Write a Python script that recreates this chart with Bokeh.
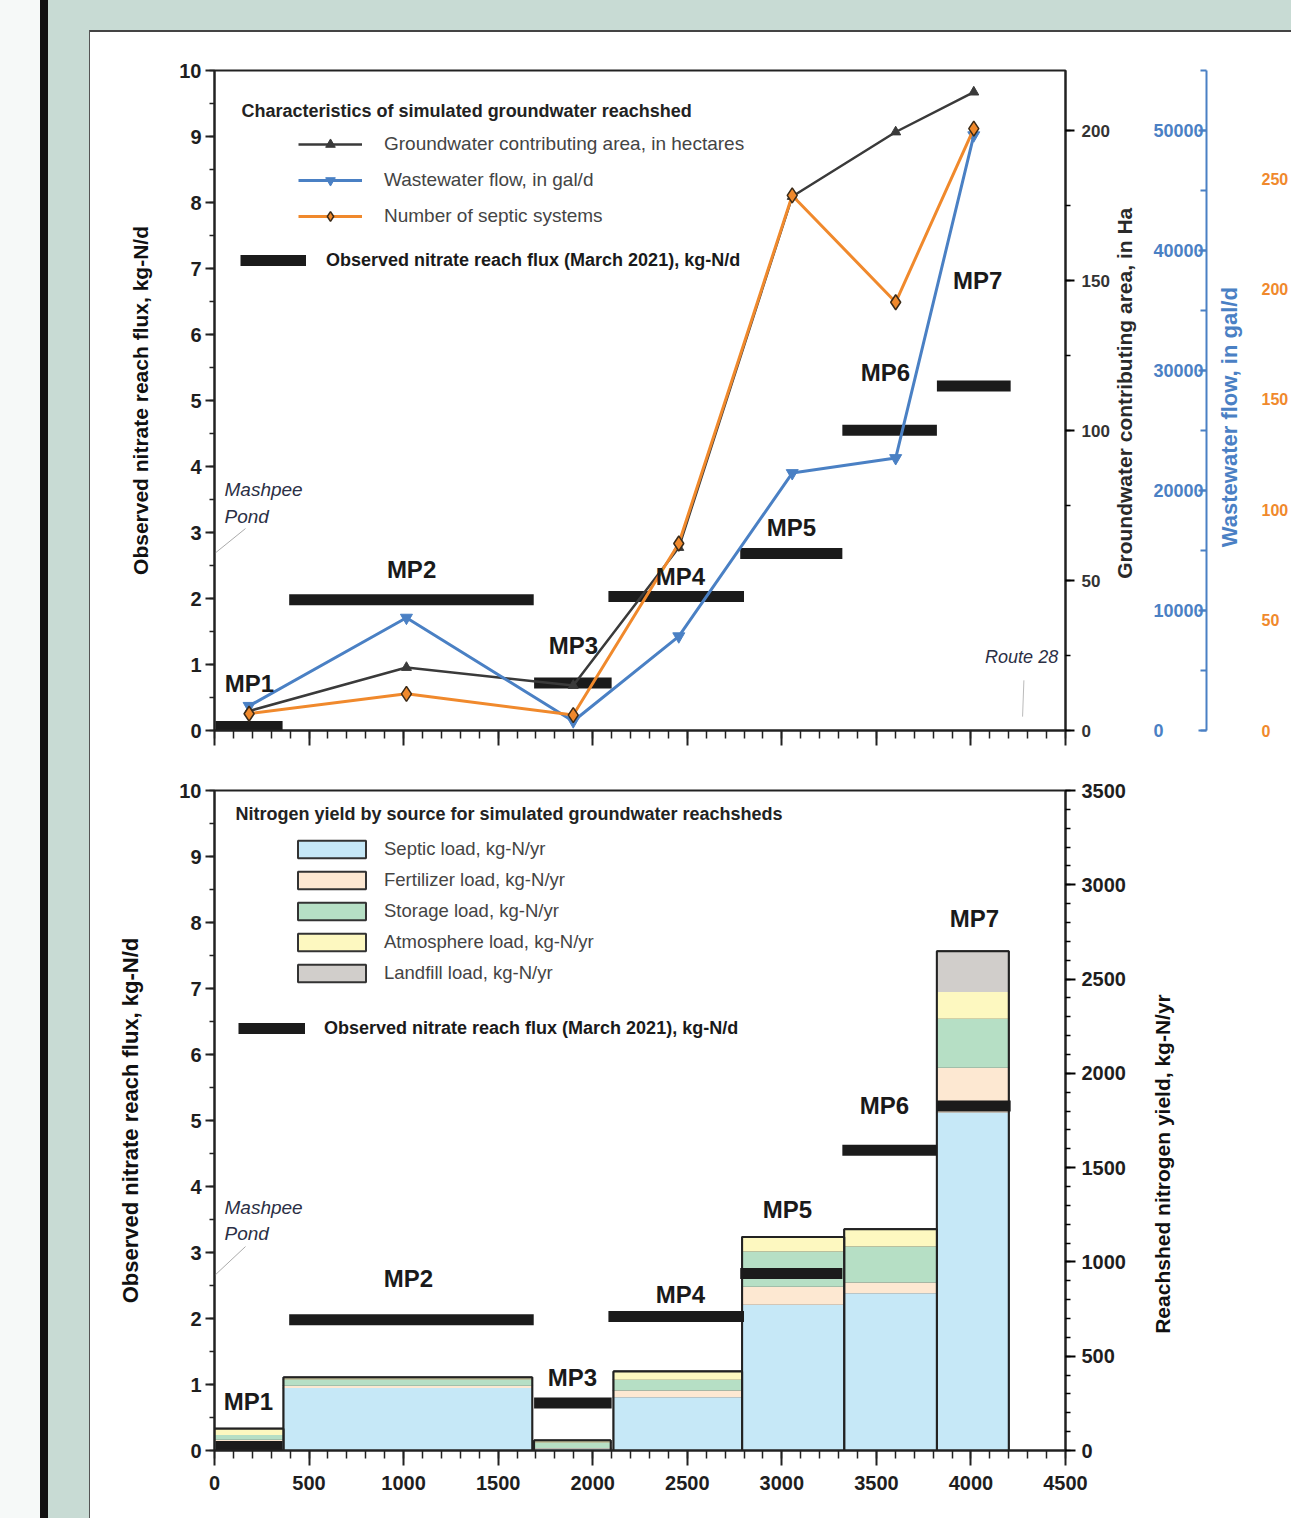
import math
from bokeh.plotting import figure
from bokeh.models import (ColumnDataSource, Range1d, LinearAxis, SingleIntervalTicker,
                          Legend, LegendItem, Div)
from bokeh.layouts import row, column
from bokeh.core.properties import value
from bokeh.embed import file_html
from bokeh.resources import INLINE

# ---------------- data ----------------
reaches = ["MP1", "MP2", "MP3", "MP4", "MP5", "MP6", "MP7"]
point_distance_m = [183, 1015, 1897, 2455, 3055, 3602, 4015]
contributing_area_ha = [6.5, 21, 15, 61, 178, 199.5, 212.8]
wastewater_flow_gpd = [2050, 9400, 770, 7850, 21450, 22700, 49600]
septic_systems = [7.6, 16.6, 7, 84.7, 242.4, 194, 272.7]

flux_start_m = [5, 395, 1690, 2083, 2780, 3320, 3820]
flux_end_m = [360, 1688, 2100, 2800, 3320, 3820, 4210]
observed_flux_kgd = [0.06, 1.98, 0.72, 2.03, 2.68, 4.55, 5.22]

bar_start_m = [0, 365, 1690, 2110, 2790, 3330, 3820]
bar_end_m = [365, 1680, 2095, 2790, 3330, 3820, 4200]
septic_load = [45, 331, 10, 283, 773, 834, 1793]
fertilizer_load = [12, 12, 3, 35, 95, 57, 237]
storage_load = [25, 34, 30, 57, 187, 191, 259]
atmosphere_load = [33, 10, 10, 44, 77, 91, 142]
landfill_load = [0, 0, 0, 0, 0, 0, 216]

load_labels = ["Septic load, kg-N/yr", "Fertilizer load, kg-N/yr", "Storage load, kg-N/yr",
               "Atmosphere load, kg-N/yr", "Landfill load, kg-N/yr"]
load_colors = ["#c6e8f7", "#fde8d2", "#b6dfc5", "#fdf8c0", "#d1cecb"]

top_label_x = [185, 1042, 1898, 2464, 3051, 3548, 4035]
top_label_y = [0.71, 2.44, 1.29, 2.33, 3.08, 5.42, 6.82]
bottom_label_x = [180, 1026, 1893, 2464, 3030, 3543, 4019]
bottom_label_y = [0.74, 2.61, 1.11, 2.36, 3.65, 5.23, 8.06]

FONT = "Liberation Sans"
GREY_BG = "#c8dbd4"
BLUE = "#4a80c4"
ORANGE = "#f0892c"
DARK = "#3a3a3a"
NB = "\u00a0"


def hide_labels(ax):
    ax.major_label_text_font_size = "1px"
    ax.major_label_text_color = None
    ax.major_label_standoff = 0


def title_props(ax, text, color, size, standoff):
    ax.axis_label = text
    ax.axis_label_text_font = FONT
    ax.axis_label_text_font_style = "bold"
    ax.axis_label_text_font_size = size
    ax.axis_label_text_color = color
    ax.axis_label_standoff = standoff


def right_title(ax, text, color, size, standoff, lead):
    # reads bottom-to-top like the reference; anchored at the axis start
    title_props(ax, NB * lead + text, color, size, standoff)
    ax.axis_label_orientation = math.pi / 2
    ax.axis_label_align = "start"


def style_common(p, left_standoff):
    p.grid.visible = False
    p.outline_line_color = "#222222"
    p.outline_line_width = 2
    xa = p.xaxis[0]
    xa.ticker = SingleIntervalTicker(interval=500, num_minor_ticks=5)
    xa.axis_line_width = 2
    xa.axis_line_color = "#222222"
    xa.major_tick_line_width = 2
    xa.minor_tick_line_width = 1.5
    xa.major_tick_line_color = "#222222"
    xa.minor_tick_line_color = "#222222"
    xa.major_tick_in = 0
    xa.minor_tick_in = 0
    xa.major_tick_out = 15
    xa.minor_tick_out = 8
    xa.major_label_text_font = FONT
    xa.major_label_text_font_style = "bold"
    xa.major_label_text_font_size = "20px"
    xa.major_label_text_color = "#1e1e1e"
    ya = p.yaxis[0]
    ya.ticker = SingleIntervalTicker(interval=1, num_minor_ticks=2)
    ya.axis_line_width = 2
    ya.axis_line_color = "#222222"
    ya.major_tick_line_width = 2
    ya.minor_tick_line_width = 1.5
    ya.major_tick_line_color = "#222222"
    ya.minor_tick_line_color = "#222222"
    ya.major_tick_in = 0
    ya.minor_tick_in = 0
    ya.major_tick_out = 9
    ya.minor_tick_out = 5
    ya.major_label_standoff = 4
    ya.major_label_text_font = FONT
    ya.major_label_text_font_style = "bold"
    ya.major_label_text_font_size = "20px"
    ya.major_label_text_color = "#1e1e1e"
    title_props(ya, "Observed nitrate reach flux, kg-N/d", "#111111", "21px", left_standoff)


def add_notes(p, pond_y1, pond_y2, lead_y0, lead_y1):
    p.text(x=[53, 53], y=[pond_y1, pond_y2], text=["Mashpee", "Pond"],
           text_font=value(FONT), text_font_style="italic", text_font_size="19px",
           text_color="#2b2f45", text_align="left", text_baseline="middle")
    p.segment(x0=[0], y0=[lead_y0], x1=[164], y1=[lead_y1], line_color="#aaaaaa", line_width=1)


def flux_renderer(p):
    src = ColumnDataSource(dict(start=flux_start_m, end=flux_end_m, val=observed_flux_kgd))
    return p.segment(x0="start", y0="val", x1="end", y1="val", source=src,
                     line_color="#1b1b1b", line_width=11, line_cap="butt")


def mp_labels(p, xs, ys):
    src = ColumnDataSource(dict(x=xs, y=ys, t=reaches))
    p.text(x="x", y="y", text="t", source=src, text_font=value(FONT), text_font_style="bold",
           text_font_size="24px", text_color="#1a1a1a", text_align="center",
           text_baseline="middle")


# ---------------- top panel ----------------
p1 = figure(frame_width=851, frame_height=660, x_range=Range1d(0, 4500), y_range=Range1d(0, 10),
            output_backend="svg", toolbar_location=None,
            min_border_left=124, min_border_right=226, min_border_top=38, min_border_bottom=30,
            background_fill_color="white", border_fill_color="white", margin=(0, 0, 0, 0))
p1.extra_y_ranges = {"ha": Range1d(0, 220), "ww": Range1d(0, 55000), "sep": Range1d(0, 299)}
style_common(p1, 24)
hide_labels(p1.xaxis[0])

ax_ha = LinearAxis(y_range_name="ha", ticker=SingleIntervalTicker(interval=50, num_minor_ticks=2))
ax_ha.axis_line_width = 2
ax_ha.axis_line_color = "#222222"
ax_ha.major_tick_line_width = 2
ax_ha.minor_tick_line_width = 1.5
ax_ha.major_tick_in = 0
ax_ha.minor_tick_in = 0
ax_ha.major_tick_out = 9
ax_ha.minor_tick_out = 5
ax_ha.major_label_standoff = 7
ax_ha.major_label_text_font = FONT
ax_ha.major_label_text_font_style = "bold"
ax_ha.major_label_text_font_size = "17px"
ax_ha.major_label_text_color = "#333333"
right_title(ax_ha, "Groundwater contributing area, in Ha", "#2a2a2a", "21px", 12, 26)
p1.add_layout(ax_ha, "right")

ax_ww_lab = LinearAxis(y_range_name="ww", ticker=SingleIntervalTicker(interval=10000, num_minor_ticks=2))
ax_ww_lab.axis_line_alpha = 0
ax_ww_lab.major_tick_line_alpha = 0
ax_ww_lab.minor_tick_line_alpha = 0
ax_ww_lab.major_tick_in = 0
ax_ww_lab.minor_tick_in = 0
ax_ww_lab.major_tick_out = 0
ax_ww_lab.minor_tick_out = 0
ax_ww_lab.major_label_standoff = 3
ax_ww_lab.major_label_text_font = FONT
ax_ww_lab.major_label_text_font_style = "bold"
ax_ww_lab.major_label_text_font_size = "18px"
ax_ww_lab.major_label_text_color = BLUE
p1.add_layout(ax_ww_lab, "right")

ax_ww = LinearAxis(y_range_name="ww", ticker=SingleIntervalTicker(interval=10000, num_minor_ticks=2))
ax_ww.axis_line_color = BLUE
ax_ww.axis_line_width = 2
ax_ww.major_tick_line_color = BLUE
ax_ww.minor_tick_line_color = BLUE
ax_ww.major_tick_line_width = 2
ax_ww.minor_tick_line_width = 2
ax_ww.major_tick_in = 8
ax_ww.minor_tick_in = 6
ax_ww.major_tick_out = 0
ax_ww.minor_tick_out = 0
hide_labels(ax_ww)
right_title(ax_ww, "Wastewater flow, in gal/d", BLUE, "22px", 23, 30)
p1.add_layout(ax_ww, "right")

ax_sep = LinearAxis(y_range_name="sep", ticker=SingleIntervalTicker(interval=50, num_minor_ticks=1))
ax_sep.axis_line_alpha = 0
ax_sep.major_tick_line_alpha = 0
ax_sep.minor_tick_line_alpha = 0
ax_sep.major_tick_in = 0
ax_sep.minor_tick_in = 0
ax_sep.major_tick_out = 0
ax_sep.minor_tick_out = 0
ax_sep.major_label_standoff = 4
ax_sep.major_label_text_font = FONT
ax_sep.major_label_text_font_style = "bold"
ax_sep.major_label_text_font_size = "16px"
ax_sep.major_label_text_color = ORANGE
p1.add_layout(ax_sep, "right")

flux1 = flux_renderer(p1)

pts = ColumnDataSource(dict(x=point_distance_m, ha=contributing_area_ha,
                            ww=wastewater_flow_gpd, sep=septic_systems))
l_ha = p1.line(x="x", y="ha", source=pts, y_range_name="ha", line_color=DARK, line_width=2.5)
m_ha = p1.scatter(x="x", y="ha", source=pts, y_range_name="ha", marker="triangle",
                  size=10, fill_color=DARK, line_color=DARK)
l_ww = p1.line(x="x", y="ww", source=pts, y_range_name="ww", line_color=BLUE, line_width=3)
m_ww = p1.scatter(x="x", y="ww", source=pts, y_range_name="ww", marker="inverted_triangle",
                  size=12, fill_color=BLUE, line_color=BLUE)
l_sep = p1.line(x="x", y="sep", source=pts, y_range_name="sep", line_color=ORANGE, line_width=3)
m_sep = p1.scatter(x="x", y="sep", source=pts, y_range_name="sep", marker="diamond",
                   size=15, fill_color=ORANGE, line_color="#3a2a18", line_width=1.5)

mp_labels(p1, top_label_x, top_label_y)
add_notes(p1, 3.65, 3.24, 2.68, 3.06)
p1.text(x=[4268], y=[1.12], text=["Route 28"], text_font=value(FONT), text_font_style="italic",
        text_font_size="18px", text_color="#2b2f45", text_align="center", text_baseline="middle")
p1.segment(x0=[4280], y0=[0.76], x1=[4273], y1=[0.21], line_color="#bbbbbb", line_width=1)

p1.text(x=[143], y=[9.38], text=["Characteristics of simulated groundwater reachshed"],
        text_font=value(FONT), text_font_style="bold", text_font_size="18px",
        text_color="#222222", text_align="left", text_baseline="middle")

leg1 = Legend(items=[
    LegendItem(label="Groundwater contributing area, in hectares", renderers=[l_ha, m_ha]),
    LegendItem(label="Wastewater flow, in gal/d", renderers=[l_ww, m_ww]),
    LegendItem(label="Number of septic systems", renderers=[l_sep, m_sep]),
], location=(84, 502), glyph_width=64, glyph_height=24, label_height=24, spacing=12,
    padding=0, margin=0, label_standoff=22, background_fill_alpha=0, border_line_alpha=0,
    label_text_font=FONT, label_text_font_size="19px", label_text_color="#444444")
p1.add_layout(leg1)
leg1b = Legend(items=[LegendItem(label="Observed nitrate reach flux (March 2021), kg-N/d",
                                 renderers=[flux1])],
               location=(26, 458), glyph_width=66, glyph_height=24, label_height=24,
               padding=0, margin=0, label_standoff=20, background_fill_alpha=0,
               border_line_alpha=0, label_text_font=FONT, label_text_font_size="18px",
               label_text_font_style="bold", label_text_color="#1a1a1a")
p1.add_layout(leg1b)

# ---------------- bottom panel ----------------
p2 = figure(frame_width=851, frame_height=660, x_range=Range1d(0, 4500), y_range=Range1d(0, 10),
            output_backend="svg", toolbar_location=None,
            min_border_left=124, min_border_right=226, min_border_top=30, min_border_bottom=68,
            background_fill_color="white", border_fill_color="white", margin=(0, 0, 0, 0))
p2.extra_y_ranges = {"yield": Range1d(0, 3500)}
style_common(p2, 33)
p2.yaxis[0].axis_label_text_font_size = "22px"
p2.xaxis[0].major_label_standoff = 10

ax_y = LinearAxis(y_range_name="yield", ticker=SingleIntervalTicker(interval=500, num_minor_ticks=5))
ax_y.axis_line_width = 2
ax_y.axis_line_color = "#222222"
ax_y.major_tick_line_width = 2
ax_y.minor_tick_line_width = 1.5
ax_y.major_tick_in = 0
ax_y.minor_tick_in = 0
ax_y.major_tick_out = 10
ax_y.minor_tick_out = 5
ax_y.major_label_standoff = 6
ax_y.major_label_text_font = FONT
ax_y.major_label_text_font_style = "bold"
ax_y.major_label_text_font_size = "20px"
ax_y.major_label_text_color = "#1e1e1e"
right_title(ax_y, "Reachshed nitrogen yield, kg-N/yr", "#111111", "21px", 34, 20)
p2.add_layout(ax_y, "right")

layers = [septic_load, fertilizer_load, storage_load, atmosphere_load, landfill_load]
layer_sources = []
base = [0.0] * len(reaches)
for vals in layers:
    top = [b + v for b, v in zip(base, vals)]
    layer_sources.append(ColumnDataSource(dict(left=bar_start_m, right=bar_end_m, bottom=base, top=top)))
    base = top

# outlined versions (used as legend swatches), then covered by fill-only layers
legend_renderers = []
for src, col in zip(layer_sources, load_colors):
    legend_renderers.append(p2.quad(left="left", right="right", bottom="bottom", top="top",
                                    source=src, y_range_name="yield", fill_color=col,
                                    line_color="#333333", line_width=2))
for src, col in zip(layer_sources, load_colors):
    p2.quad(left="left", right="right", bottom="bottom", top="top", source=src,
            y_range_name="yield", fill_color=col, line_color=None)
outline_src = ColumnDataSource(dict(left=bar_start_m, right=bar_end_m,
                                    bottom=[0] * len(reaches), top=base))
p2.quad(left="left", right="right", bottom="bottom", top="top", source=outline_src,
        y_range_name="yield", fill_alpha=0, line_color="#222222", line_width=2)

flux2 = flux_renderer(p2)
mp_labels(p2, bottom_label_x, bottom_label_y)
add_notes(p2, 3.68, 3.29, 2.65, 3.09)

p2.text(x=[111], y=[9.64], text=["Nitrogen yield by source for simulated groundwater reachsheds"],
        text_font=value(FONT), text_font_style="bold", text_font_size="18px",
        text_color="#222222", text_align="left", text_baseline="middle")

leg2 = Legend(items=[LegendItem(label=lab, renderers=[r]) for lab, r in zip(load_labels, legend_renderers)],
              location=(75, 466), glyph_width=85, glyph_height=22, label_height=22, spacing=9,
              padding=0, margin=0, label_standoff=10, background_fill_alpha=0, border_line_alpha=0,
              label_text_font=FONT, label_text_font_size="18.5px", label_text_color="#444444")
p2.add_layout(leg2)
leg2b = Legend(items=[LegendItem(label="Observed nitrate reach flux (March 2021), kg-N/d",
                                 renderers=[flux2])],
               location=(24, 410), glyph_width=67, glyph_height=24, label_height=24,
               padding=0, margin=0, label_standoff=19, background_fill_alpha=0,
               border_line_alpha=0, label_text_font=FONT, label_text_font_size="18px",
               label_text_font_style="bold", label_text_color="#1a1a1a")
p2.add_layout(leg2b)

# ---------------- page frame ----------------
def block(w, h, color):
    return Div(text="", width=w, height=h, margin=(0, 0, 0, 0),
               styles={"background-color": color})

layout = row(
    block(40, 1518, "#f6f9f8"),
    block(8, 1518, "#111111"),
    column(
        block(1243, 30, GREY_BG),
        row(
            block(41, 1488, GREY_BG),
            block(1, 1488, "#555555"),
            column(block(1201, 2, "#444444"), p1, p2, spacing=0),
            spacing=0,
        ),
        spacing=0,
    ),
    spacing=0,
)

open("out.html", "w").write(file_html(layout, INLINE))
